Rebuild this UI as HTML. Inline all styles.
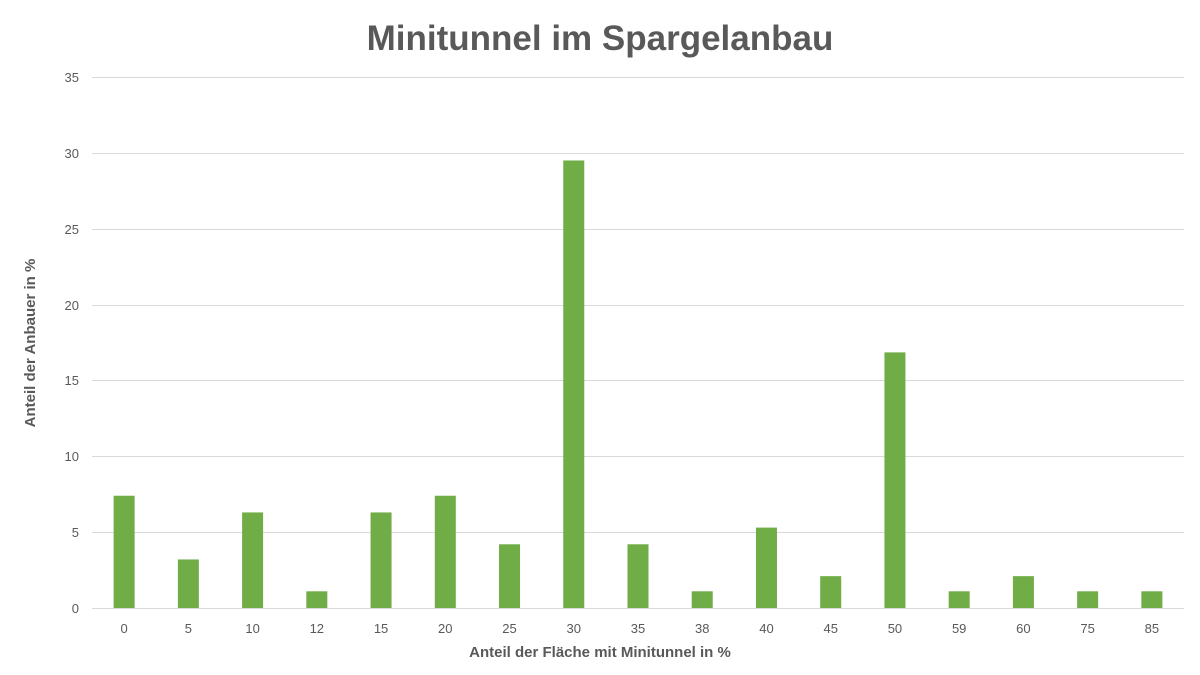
<!DOCTYPE html>
<html><head><meta charset="utf-8"><style>body{margin:0;background:#fff}svg{display:block}text{font-family:"Liberation Sans",sans-serif}</style></head><body>
<svg width="1200" height="675" xmlns="http://www.w3.org/2000/svg">
<rect width="1200" height="675" fill="#fff"/>
<text x="600" y="50" text-anchor="middle" font-size="35" font-weight="bold" fill="#595959">Minitunnel im Spargelanbau</text>
<g stroke="#d9d9d9" stroke-width="1">
<line x1="92" x2="1184" y1="77.5" y2="77.5"/><line x1="92" x2="1184" y1="153.5" y2="153.5"/><line x1="92" x2="1184" y1="229.5" y2="229.5"/><line x1="92" x2="1184" y1="305.5" y2="305.5"/><line x1="92" x2="1184" y1="380.5" y2="380.5"/><line x1="92" x2="1184" y1="456.5" y2="456.5"/><line x1="92" x2="1184" y1="532.5" y2="532.5"/><line x1="92" x2="1184" y1="608.5" y2="608.5"/>
</g>
<g font-size="13" fill="#595959" text-anchor="end">
<text x="79" y="82">35</text><text x="79" y="158">30</text><text x="79" y="234">25</text><text x="79" y="310">20</text><text x="79" y="385">15</text><text x="79" y="461">10</text><text x="79" y="537">5</text><text x="79" y="613">0</text>
</g>
<g id="bars" fill="#70ad47"></g>
<g id="labs" font-size="13" fill="#595959" text-anchor="middle"></g>
<text x="600" y="657" text-anchor="middle" font-size="15" font-weight="bold" fill="#595959">Anteil der Fläche mit Minitunnel in %</text>
<text transform="translate(35,343) rotate(-90)" text-anchor="middle" font-size="15" font-weight="bold" fill="#595959">Anteil der Anbauer in %</text>
<script>
var c=["0","5","10","12","15","20","25","30","35","38","40","45","50","59","60","75","85"];
var v=[7.4,3.2,6.3,1.1,6.3,7.4,4.2,29.5,4.2,1.1,5.3,2.1,16.85,1.1,2.1,1.1,1.1];
var s=15.17,w=1092/17,b=document.getElementById('bars'),l=document.getElementById('labs'),n="http://www.w3.org/2000/svg";
for(var i=0;i<17;i++){var cx=92+w*(i+0.5);var r=document.createElementNS(n,'rect');r.setAttribute('x',cx-10.5);r.setAttribute('width',21);var h=v[i]*s;r.setAttribute('y',608-h);r.setAttribute('height',h);b.appendChild(r);
var t=document.createElementNS(n,'text');t.setAttribute('x',cx);t.setAttribute('y',633);t.textContent=c[i];l.appendChild(t);}
</script>
</svg>
</body></html>
